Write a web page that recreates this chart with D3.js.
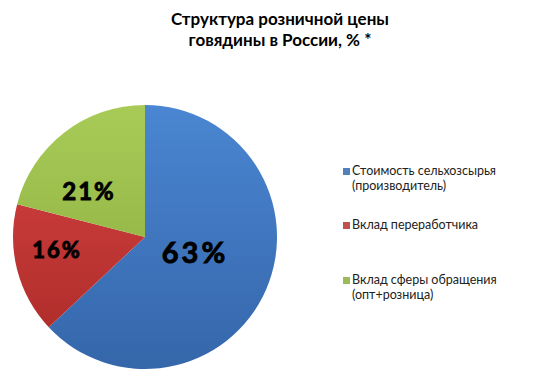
<!DOCTYPE html>
<html><head><meta charset="utf-8">
<script src="https://cdn.jsdelivr.net/npm/d3@7"></script>
<style>body{margin:0;background:#fff}svg{display:block}</style>
</head><body><svg id="c" width="536" height="384"></svg>
<script>
const categories = ["Стоимость сельхозсырья (производитель)", "Вклад переработчика", "Вклад сферы обращения (опт+розница)"];
const legendLines = [["Стоимость сельхозсырья", "(производитель)"], ["Вклад переработчика"], ["Вклад сферы обращения", "(опт+розница)"]];
const values = [63, 16, 21];
const labels = ["63%", "16%", "21%"];
const titleLines = ["Структура розничной цены", "говядины в России, % *"];

const svg = d3.select("#c");
const font = "Lato, 'Open Sans', sans-serif";
const cx = 145, cy = 237, r = 132;
const grads = [["#4a86d2", "#3566aa"], ["#d84444", "#a92a27"], ["#a8cb58", "#86a83a"]];
const legendColors = ["#4f81bd", "#c0504d", "#9bbb59"];

const defs = svg.append("defs");
grads.forEach((g, i) => {
  const lg = defs.append("linearGradient").attr("id", "g" + i)
    .attr("gradientUnits", "userSpaceOnUse").attr("x1", 0).attr("y1", -r).attr("x2", 0).attr("y2", r);
  lg.append("stop").attr("offset", 0).attr("stop-color", g[0]);
  lg.append("stop").attr("offset", 1).attr("stop-color", g[1]);
});

svg.append("g").attr("font-family", font).attr("font-weight", "bold").attr("font-size", 17).attr("text-anchor", "middle")
  .selectAll("text").data(titleLines).join("text")
  .attr("x", 280).attr("y", (d, i) => 25 + i * 21).text(d => d);

const pie = d3.pie().sort(null).value(d => d)(values);
const arc = d3.arc().innerRadius(0).outerRadius(r);
const g = svg.append("g").attr("transform", `translate(${cx},${cy})`);
g.selectAll("path").data(pie).join("path").attr("d", arc)
  .attr("fill", (d, i) => `url(#g${i})`);

const labelPos = [[50, 26], [-88, 21], [-56, -37]];
const labelSize = [29, 22, 24];
const labelSpacing = [3, 2, 2];
g.selectAll("text.lbl").data(pie).join("text").attr("class", "lbl")
  .attr("x", (d, i) => labelPos[i][0]).attr("y", (d, i) => labelPos[i][1])
  .attr("text-anchor", "middle").attr("font-family", font).attr("font-weight", "bold")
  .attr("font-size", (d, i) => labelSize[i]).attr("letter-spacing", (d, i) => labelSpacing[i])
  .attr("fill", "#000").attr("stroke", "#000").attr("stroke-width", 0.9)
  .text((d, i) => labels[i]);

const legendY = [175, 229, 284];
const lg = svg.append("g").attr("font-family", font).attr("font-size", 12.5).attr("fill", "#222");
categories.forEach((c, i) => {
  lg.append("rect").attr("x", 343).attr("y", legendY[i] - 7).attr("width", 7).attr("height", 7).attr("fill", legendColors[i]);
  legendLines[i].forEach((t, j) => {
    lg.append("text").attr("x", 352).attr("y", legendY[i] + j * 15).attr("fill", "#222").text(t);
  });
});
</script></body></html>
